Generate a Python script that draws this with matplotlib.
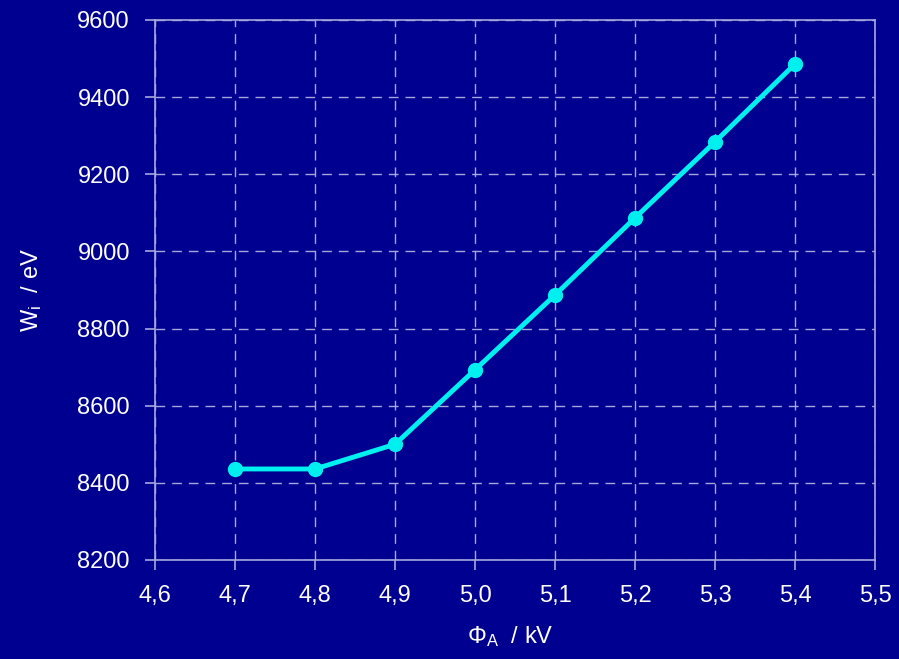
import matplotlib
matplotlib.use("Agg")
import matplotlib.pyplot as plt

plt.rcParams['font.family'] = ['Liberation Sans', 'DejaVu Sans']
plt.rcParams['mathtext.fontset'] = 'custom'
plt.rcParams['mathtext.rm'] = 'Liberation Sans'
plt.rcParams['mathtext.it'] = 'Liberation Sans'

# anode voltage in kV and ion energy in eV
phi_a = [4.7, 4.8, 4.9, 5.0, 5.1, 5.2, 5.3, 5.4]
w_i = [8436, 8436, 8500, 8693, 8887, 9087, 9284, 9486]

x_ticks = [4.6, 4.7, 4.8, 4.9, 5.0, 5.1, 5.2, 5.3, 5.4, 5.5]
y_ticks = [8200, 8400, 8600, 8800, 9000, 9200, 9400, 9600]

bg = '#000090'
grid_col = '#a8a8dc'
line_col = '#00f0f0'

fig = plt.figure(figsize=(8.99, 6.59), dpi=100, facecolor=bg)
ax = fig.add_axes([155/899, 1 - 560/659, 720/899, 540/659])
ax.set_facecolor(bg)

ax.plot(phi_a, w_i, color=line_col, lw=3.5, marker='o', ms=10, zorder=3)

ax.set_xlim(4.6, 5.5)
ax.set_ylim(8200, 9600)
ax.set_xticks(x_ticks)
ax.set_xticklabels([f"{v:.1f}".replace('.', ',') for v in x_ticks])
ax.set_yticks(y_ticks)
ax.grid(True, color=grid_col, ls=(0, (7, 5)), lw=1)
for s in ax.spines.values():
    s.set_color(grid_col)
    s.set_linewidth(1.2)
ax.tick_params(colors=grid_col, labelcolor='white', labelsize=17,
               length=7, width=1.2, direction='out', pad=11)

fig.text(510/899, 1 - 637/659, r'$\Phi_{\rm A}$  / kV', color='white',
         fontsize=17, ha='center', va='center')
fig.text(32/899, 1 - 290/659, r'W$_{\rm i}$  / eV', color='white',
         fontsize=17, ha='center', va='center', rotation=90)

fig.savefig('out.png', dpi=100, facecolor=bg)
